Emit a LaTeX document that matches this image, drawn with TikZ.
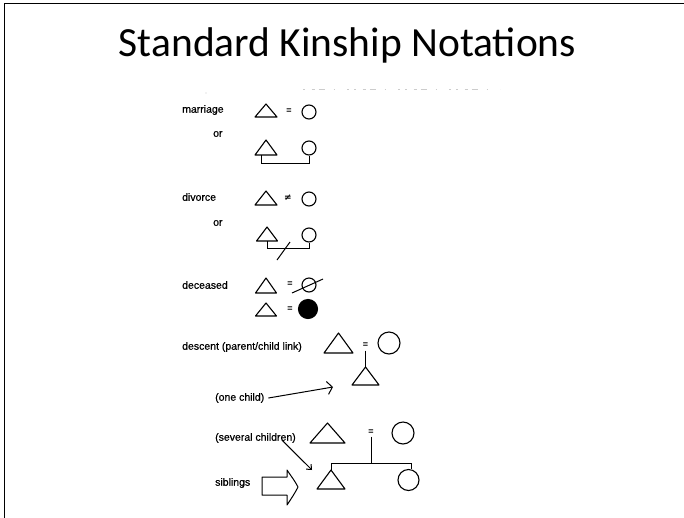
\documentclass[tikz,border=0pt]{standalone}
\usepackage{fontspec}
\setmainfont{Liberation Sans}
\newfontfamily\titlefont{Carlito}
\newfontfamily\symfont{DejaVu Sans}
\usetikzlibrary{arrows.meta,calc}

\tikzset{
  kinline/.style={line width=1.1pt, line join=round},
  % male symbol: triangle placed by the midpoint of its base
  pics/kintri/.style 2 args={code={
    \draw[kinline] (-#1/2,0) coordinate (-bl) -- (0,-#2) coordinate (-apex)
      -- (#1/2,0) coordinate (-br) -- cycle;
    \coordinate (-base) at (0,0);}},
  kincirc/.style={circle, draw, line width=1.1pt, inner sep=0pt},
  lbl/.style={anchor=west, inner sep=0pt,
    font=\fontsize{10.5}{12}\selectfont\addfontfeatures{FakeBold=0.6}},
  eqmark/.style={inner sep=0pt, font=\fontsize{9}{9}\selectfont\bfseries},
  link/.style={line width=1pt},
}

\begin{document}
\begin{tikzpicture}[x=1pt, y=-1pt]
\useasboundingbox (0,0) rectangle (684,517);

% slide frame
\draw[line width=1.7pt, line cap=rect] (4.6,517) -- (4.6,3.6) -- (684,3.6);

% title
\node[font=\titlefont\fontsize{41.5}{44}\selectfont, anchor=base, inner sep=0pt]
  (title) at (347.5,56) {Standard Kinship Notations};

% faint cut-off line of the scanned page
\fill[gray!45] (206,93) circle (0.7);
\draw[gray!40, line width=1pt,
  dash pattern=on 1.5pt off 7pt on 3pt off 4pt on 6pt off 9pt on 1.5pt off 12pt on 2pt off 5pt]
  (303,89) -- (500,89);

% marriage
\node[lbl] (lmar) at (182,110) {marriage};
\pic (t1) at (266,117) {kintri={22}{13}};
\node[eqmark] (e1) at (289,111) {=};
\node[kincirc, minimum size=14pt] (c1) at (309,112) {};

\node[lbl] (lor1) at (213,134) {or};
\pic (t2) at (266,155) {kintri={22}{15}};
\node[kincirc, minimum size=14pt] (c2) at (309,148) {};
\draw[link] (t2-base) ++(-5,0) -- ++(0,8) -| (c2.south);

% divorce
\node[lbl] (ldiv) at (182,197) {divorce};
\pic (t3) at (266,205) {kintri={22}{14}};
\node[eqmark, font=\symfont\fontsize{9}{9}\selectfont\bfseries] (e3) at (288,198) {≠};
\node[kincirc, minimum size=14pt] (c3) at (309,199) {};

\node[lbl] (lor2) at (213,223) {or};
\pic (t4) at (267,241) {kintri={21}{14}};
\node[kincirc, minimum size=14pt] (c4) at (309,235) {};
\draw[link] (t4-base) -- ++(0,7) coordinate (d4) -| (c4.south);
\draw[link] ($(d4)+(10,12)$) -- ($(d4)+(23,-6)$);

% deceased
\node[lbl] (ldec) at (182,285) {deceased};
\pic (t5) at (266,293) {kintri={21}{15}};
\node[eqmark] (e5) at (290,284) {=};
\node[kincirc, minimum size=14pt] (c5) at (309,285) {};
\draw[link] ($(c5)+(-17,8)$) -- ($(c5)+(14,-6)$);
\pic (t6) at (266,316) {kintri={21}{13}};
\node[eqmark] (e6) at (290,309) {=};
\node[kincirc, fill=black, minimum size=19pt] (c6) at (308,309) {};

% descent
\node[lbl] (ldes) at (182,347) {descent (parent/child link)};
\pic (t7) at (338.5,353) {kintri={29}{20}};
\node[eqmark] (e7) at (365.5,345) {=};
\node[kincirc, minimum size=22pt] (c7) at (389,343) {};
\pic (t8) at (365.5,385) {kintri={27}{18}};
\draw[link] (e7.south) ++(0,3) -- (t8-apex);

\node[lbl] (lone) at (215,398) {(one child)};
\coordinate (onetip) at (333,387);
\draw[link, -{Straight Barb[length=5pt,width=13pt]}] (lone.east) ++(4,0) -- (onetip);

% several children
\node[lbl] (lsev) at (215,438) {(several children)};
\pic (t9) at (327.5,443) {kintri={35}{20}};
\node[eqmark] (e9) at (371,432) {=};
\node[kincirc, minimum size=22pt] (c9) at (403,433) {};
\pic (t10) at (331,489) {kintri={28}{19}};
\node[kincirc, minimum size=21pt] (c10) at (408.5,480) {};
\draw[link] (t10-apex) -- ++(0,-7) coordinate (barl) -| (c10.75);
\draw[link] (e9.south) ++(0,2) -- (e9 |- barl);
\coordinate (sevtip) at (312,470);
\draw[link, -{Straight Barb[length=4pt,width=7pt]}] (lsev.south east) ++(-14,-3) -- (sevtip);

% siblings
\node[lbl] (lsib) at (215,483) {siblings};
\draw[line width=1pt, line join=round] (262,477) -- (287,477) -- (287,470)
  .. controls (291,476) and (295,481) .. (298,487)
  .. controls (295,493) and (291,499) .. (287,505)
  -- (287,495) -- (262,495) -- cycle;
\end{tikzpicture}
\end{document}
